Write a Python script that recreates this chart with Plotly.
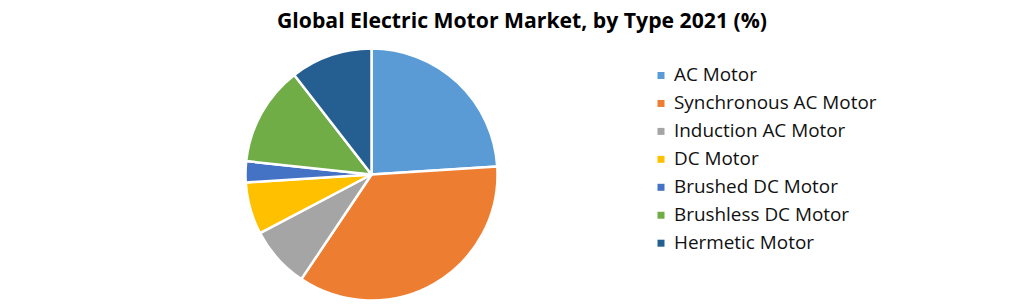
import plotly.graph_objects as go

labels = ["AC Motor", "Synchronous AC Motor", "Induction AC Motor", "DC Motor",
          "Brushed DC Motor", "Brushless DC Motor", "Hermetic Motor"]
shares = [24.0, 35.4, 7.9, 6.7, 2.7, 12.8, 10.5]
colors = ["#5B9BD5", "#ED7D31", "#A5A5A5", "#FFC000", "#4472C4", "#70AD47", "#255E91"]
title_text = "Global Electric Motor Market, by Type 2021 (%)"

W, H = 1021, 304
FONT = "Open Sans"

fig = go.Figure()
fig.add_trace(go.Pie(
    labels=labels, values=shares, sort=False, direction="clockwise", rotation=0,
    marker=dict(colors=colors, line=dict(color="white", width=2.5)),
    textinfo="none", showlegend=False,
    domain=dict(x=[245.5 / W, 497.5 / W], y=[(H - 300.5) / H, (H - 48.5) / H]),
))

# manual legend (to match row spacing)
row0, gap = 75.5, 27.95
for i, (lab, col) in enumerate(zip(labels, colors)):
    yc = row0 + gap * i
    fig.add_shape(type="rect", xref="paper", yref="paper",
                  x0=657.5 / W, x1=664.5 / W,
                  y0=1 - (yc + 3.5) / H, y1=1 - (yc - 3.5) / H,
                  fillcolor=col, line=dict(width=0))
    fig.add_annotation(text=lab, xref="paper", yref="paper",
                       x=672 / W, y=1 - (yc - 1) / H, xanchor="left", yanchor="middle",
                       showarrow=False, font=dict(family=FONT, size=18.9, color="#111111"))

fig.add_annotation(text="<b>" + title_text + "</b>", xref="paper", yref="paper",
                   x=521.5 / W, y=1 - 20 / H, xanchor="center", yanchor="middle",
                   showarrow=False, font=dict(family=FONT, size=21.2, color="#000000"))

fig.update_layout(width=W, height=H, margin=dict(l=0, r=0, t=0, b=0),
                  paper_bgcolor="white", plot_bgcolor="white")
fig.write_html("out.html")
